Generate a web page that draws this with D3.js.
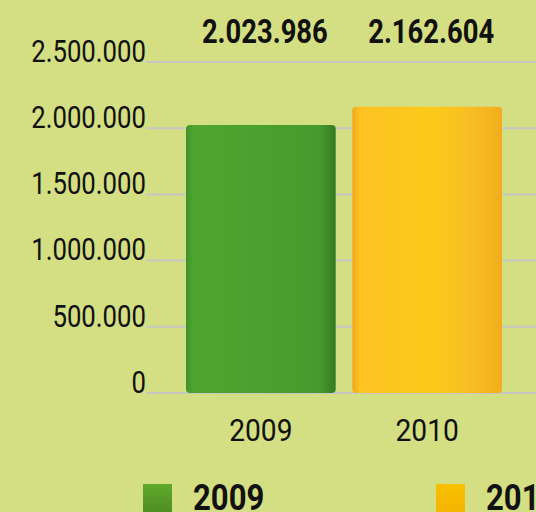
<!DOCTYPE html>
<html>
<head>
<meta charset="utf-8">
<script src="https://cdn.jsdelivr.net/npm/d3@7"></script>
<style>
  html, body { margin: 0; padding: 0; background: #d4df83; }
  svg { display: block; }
  text { font-family: Roboto, "DejaVu Sans Condensed", sans-serif; fill: #111; }
</style>
</head>
<body>
<svg id="chart" width="536" height="512"></svg>
<script>
// Annual totals
const years = ["2009", "2010"];
const totals = [2023986, 2162604];
const yTicks = [0, 500000, 1000000, 1500000, 2000000, 2500000];
const valueLabels = ["2.023.986", "2.162.604"];
const tickLabels = ["0", "500.000", "1.000.000", "1.500.000", "2.000.000", "2.500.000"];

const W = 536, H = 512;
const svg = d3.select("#chart");

svg.append("rect").attr("width", W).attr("height", H).attr("fill", "#d4df83");

const y = d3.scaleLinear().domain([0, 2500000]).range([393, 62]);
const x = d3.scaleBand().domain(years).range([186, 502]).paddingInner(0.1).paddingOuter(0);

// Narrow the glyphs so the text reads like a condensed face
function condense(sel, factor) {
  sel.each(function () {
    const w = this.getComputedTextLength();
    d3.select(this).attr("textLength", w * factor).attr("lengthAdjust", "spacingAndGlyphs");
  });
}

// Bar shading: light face with darker edges for a solid look
const defs = svg.append("defs");
const shades = [
  { id: "g2009", stops: [["0%", "#3f9228"], ["5%", "#4fa530"], ["55%", "#4aa02e"], ["90%", "#469a2c"], ["100%", "#347a22"]] },
  { id: "g2010", stops: [["0%", "#f2a71a"], ["5%", "#fdc224"], ["55%", "#fdca1a"], ["80%", "#f8bd26"], ["100%", "#f2ad1c"]] },
  { id: "l2009", vertical: true, stops: [["0%", "#5faa2a"], ["100%", "#4d8c24"]] },
  { id: "l2010", vertical: true, stops: [["0%", "#f7c000"], ["100%", "#f5b400"]] }
];
shades.forEach(s => {
  const g = defs.append("linearGradient").attr("id", s.id)
    .attr("x1", 0).attr("y1", 0)
    .attr("x2", s.vertical ? 0 : 1).attr("y2", s.vertical ? 1 : 0);
  s.stops.forEach(([o, c]) => g.append("stop").attr("offset", o).attr("stop-color", c));
});

// Gridlines
svg.append("g")
  .selectAll("line").data(yTicks).join("line")
  .attr("x1", 146).attr("x2", W)
  .attr("y1", d => y(d)).attr("y2", d => y(d))
  .attr("stroke", "#c6c7c2").attr("stroke-width", 2);

// Y axis labels
const yAxis = d3.axisLeft(y).tickValues(yTicks)
  .tickFormat((d, i) => tickLabels[i]).tickSize(0).tickPadding(0);
const gy = svg.append("g").attr("transform", "translate(146,0)").call(yAxis);
gy.select(".domain").remove();
gy.selectAll("text")
  .attr("font-family", null)
  .style("font-size", "31px")
  .attr("dy", "-0.02em")
  .attr("fill", "#111")
  .call(condense, 0.83);

// Bars
svg.append("g")
  .selectAll("rect").data(years).join("rect")
  .attr("x", d => x(d))
  .attr("y", (d, i) => y(totals[i]))
  .attr("width", x.bandwidth())
  .attr("height", (d, i) => y(0) - y(totals[i]))
  .attr("rx", 4)
  .attr("fill", d => `url(#g${d})`);

// Value labels
svg.append("g")
  .selectAll("text").data(years).join("text")
  .attr("x", d => x(d) + x.bandwidth() / 2 + 4)
  .attr("y", 43)
  .attr("text-anchor", "middle")
  .style("font-size", "33px")
  .style("font-weight", "bold")
  .text((d, i) => valueLabels[i])
  .call(condense, 0.83);

// X axis labels
const xAxis = d3.axisBottom(x).tickSize(0).tickPadding(0);
const gx = svg.append("g").attr("transform", "translate(0,418)").call(xAxis);
gx.select(".domain").remove();
gx.selectAll("text")
  .attr("font-family", null)
  .style("font-size", "32px")
  .attr("dy", "0.72em")
  .attr("fill", "#111")
  .call(condense, 0.88);

// Legend
const legendX = d3.scaleOrdinal().domain(years).range([143, 436]);
const lg = svg.append("g").selectAll("g").data(years).join("g")
  .attr("transform", d => `translate(${legendX(d)},484)`);
lg.append("rect").attr("width", 29).attr("height", 30).attr("fill", d => `url(#l${d})`);
lg.append("text")
  .attr("x", 50).attr("y", 26)
  .style("font-size", "37px")
  .style("font-weight", "bold")
  .text(d => d)
  .call(condense, 0.84);
</script>
</body>
</html>
